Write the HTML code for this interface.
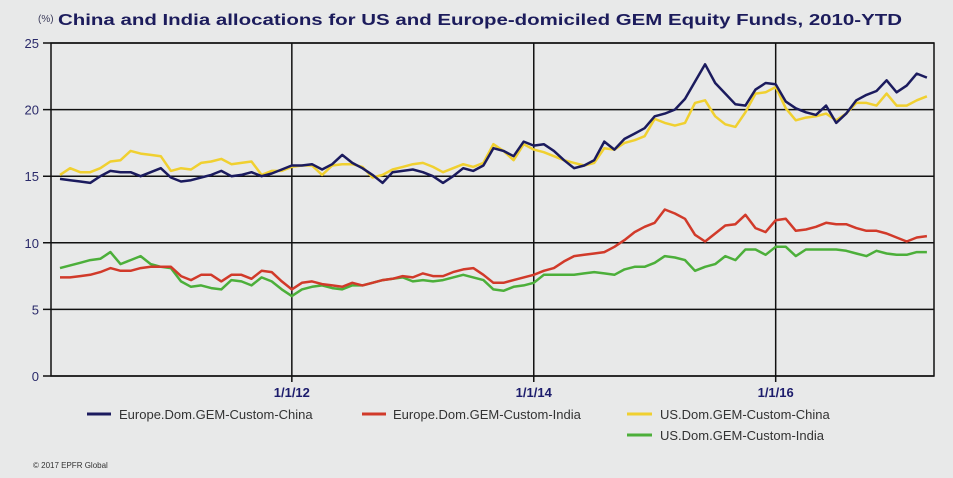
<!DOCTYPE html>
<html><head><meta charset="utf-8">
<style>
html,body{margin:0;padding:0;background:#e8e9e9;}
svg{display:block;font-family:"Liberation Sans",Arial,sans-serif;}
</style></head>
<body>
<svg id="chart" width="953" height="478" viewBox="0 0 953 478">
<rect x="0" y="0" width="953" height="478" fill="#e8e9e9"/>
<text x="38" y="22" font-size="10" fill="#3a3a5a">(%)</text>
<text x="58" y="25" font-size="16" font-weight="bold" fill="#1c1c5c" textLength="844" lengthAdjust="spacingAndGlyphs">China and India allocations for US and Europe-domiciled GEM Equity Funds, 2010-YTD</text>
<g id="grid"></g>
<g id="series"></g>
<rect x="51" y="43" width="883" height="333" fill="none" stroke="#111" stroke-width="1.5"/>
<g font-size="13" fill="#333">
 <g><line x1="87" y1="414" x2="111" y2="414" stroke="#1b1b5e" stroke-width="3"/><text x="119" y="419">Europe.Dom.GEM-Custom-China</text></g>
 <g><line x1="362" y1="414" x2="386" y2="414" stroke="#d13a2a" stroke-width="3"/><text x="393" y="419">Europe.Dom.GEM-Custom-India</text></g>
 <g><line x1="627" y1="414" x2="652" y2="414" stroke="#f0d030" stroke-width="3"/><text x="660" y="419">US.Dom.GEM-Custom-China</text></g>
 <g><line x1="627" y1="435" x2="652" y2="435" stroke="#4caf3a" stroke-width="3"/><text x="660" y="440">US.Dom.GEM-Custom-India</text></g>
</g>
<text x="33" y="468" font-size="8" fill="#333">© 2017 EPFR Global</text>
</svg>
<script>
const yTicks = [0,5,10,15,20,25];
const xTickLabels = ["1/1/12","1/1/14","1/1/16"];
const xTickIndex = [23,47,71];
const euChina = [14.8,14.7,14.6,14.5,15.0,15.4,15.3,15.3,15.0,15.3,15.6,14.9,14.6,14.7,14.9,15.1,15.4,15.0,15.1,15.3,15.0,15.2,15.5,15.8,15.8,15.9,15.5,15.9,16.6,16.0,15.6,15.1,14.5,15.3,15.4,15.5,15.3,15.0,14.5,15.0,15.6,15.4,15.8,17.1,16.9,16.5,17.6,17.3,17.4,16.9,16.2,15.6,15.8,16.2,17.6,17.0,17.8,18.2,18.6,19.5,19.7,20.0,20.8,22.1,23.4,22.0,21.2,20.4,20.3,21.5,22.0,21.9,20.6,20.1,19.8,19.6,20.3,19.0,19.7,20.7,21.1,21.4,22.2,21.3,21.8,22.7,22.4];
const euIndia = [7.4,7.4,7.5,7.6,7.8,8.1,7.9,7.9,8.1,8.2,8.2,8.2,7.5,7.2,7.6,7.6,7.1,7.6,7.6,7.3,7.9,7.8,7.1,6.5,7.0,7.1,6.9,6.8,6.7,7.0,6.8,7.0,7.2,7.3,7.5,7.4,7.7,7.5,7.5,7.8,8.0,8.1,7.6,7.0,7.0,7.2,7.4,7.6,7.9,8.1,8.6,9.0,9.1,9.2,9.3,9.7,10.2,10.8,11.2,11.5,12.5,12.2,11.8,10.6,10.1,10.7,11.3,11.4,12.1,11.1,10.8,11.7,11.8,10.9,11.0,11.2,11.5,11.4,11.4,11.1,10.9,10.9,10.7,10.4,10.1,10.4,10.5];
const usChina = [15.1,15.6,15.3,15.3,15.6,16.1,16.2,16.9,16.7,16.6,16.5,15.4,15.6,15.5,16.0,16.1,16.3,15.9,16.0,16.1,15.1,15.4,15.4,15.7,15.8,15.8,15.1,15.8,15.9,15.9,15.7,14.9,15.1,15.5,15.7,15.9,16.0,15.7,15.3,15.6,15.9,15.7,16.0,17.4,16.9,16.2,17.4,17.0,16.8,16.5,16.2,16.0,15.8,16.0,17.1,17.0,17.5,17.7,18.0,19.3,19.0,18.8,19.0,20.5,20.7,19.5,18.9,18.7,19.8,21.2,21.3,21.7,20.1,19.2,19.4,19.5,19.7,19.2,19.7,20.5,20.5,20.3,21.2,20.3,20.3,20.7,21.0];
const usIndia = [8.1,8.3,8.5,8.7,8.8,9.3,8.4,8.7,9.0,8.4,8.2,8.1,7.1,6.7,6.8,6.6,6.5,7.2,7.1,6.8,7.4,7.1,6.5,6.0,6.5,6.7,6.8,6.6,6.5,6.8,6.8,7.0,7.2,7.3,7.4,7.1,7.2,7.1,7.2,7.4,7.6,7.4,7.2,6.5,6.4,6.7,6.8,7.0,7.6,7.6,7.6,7.6,7.7,7.8,7.7,7.6,8.0,8.2,8.2,8.5,9.0,8.9,8.7,7.9,8.2,8.4,9.0,8.7,9.5,9.5,9.1,9.7,9.7,9.0,9.5,9.5,9.5,9.5,9.4,9.2,9.0,9.4,9.2,9.1,9.1,9.3,9.3];

const NS='http://www.w3.org/2000/svg';
const x0=60, dx=10.08;
function xs(i){return x0+i*dx;}
function ys(v){return 376 - v*(333/25);}
const grid=document.getElementById('grid');
yTicks.forEach(t=>{
  const y=ys(t);
  const l=document.createElementNS(NS,'line');
  l.setAttribute('x1',43);l.setAttribute('x2',934);l.setAttribute('y1',y);l.setAttribute('y2',y);
  l.setAttribute('stroke','#111');l.setAttribute('stroke-width','1.5');
  
  
  grid.appendChild(l);
  const tx=document.createElementNS(NS,'text');
  tx.setAttribute('x',39);tx.setAttribute('y',y+5);tx.setAttribute('text-anchor','end');
  tx.setAttribute('font-size','13');tx.setAttribute('fill','#2a2a6a');
  tx.textContent=t;
  
  
  grid.appendChild(tx);
});
xTickIndex.forEach((idx,k)=>{
  const x=xs(idx);
  const l=document.createElementNS(NS,'line');
  l.setAttribute('x1',x);l.setAttribute('x2',x);l.setAttribute('y1',43);l.setAttribute('y2',382);
  l.setAttribute('stroke','#111');l.setAttribute('stroke-width','1.5');
  
  
  grid.appendChild(l);
  const tx=document.createElementNS(NS,'text');
  tx.setAttribute('x',x);tx.setAttribute('y',397);tx.setAttribute('text-anchor','middle');
  tx.setAttribute('font-size','13');tx.setAttribute('font-weight','bold');tx.setAttribute('fill','#1c1c6c');
  tx.textContent=xTickLabels[k];
  
  
  grid.appendChild(tx);
});
const ser=document.getElementById('series');
[[usIndia,'#4caf3a','line-us-india'],[euIndia,'#d13a2a','line-europe-india'],[usChina,'#f0d030','line-us-china'],[euChina,'#1b1b5e','line-europe-china']].forEach(([d,c,n])=>{
  const p=document.createElementNS(NS,'polyline');
  p.setAttribute('points',d.map((v,i)=>xs(i).toFixed(1)+','+ys(v).toFixed(1)).join(' '));
  p.setAttribute('fill','none');p.setAttribute('stroke',c);p.setAttribute('stroke-width','2.5');
  p.setAttribute('stroke-linejoin','round');
  
  
  ser.appendChild(p);
});
</script>
</body></html>
